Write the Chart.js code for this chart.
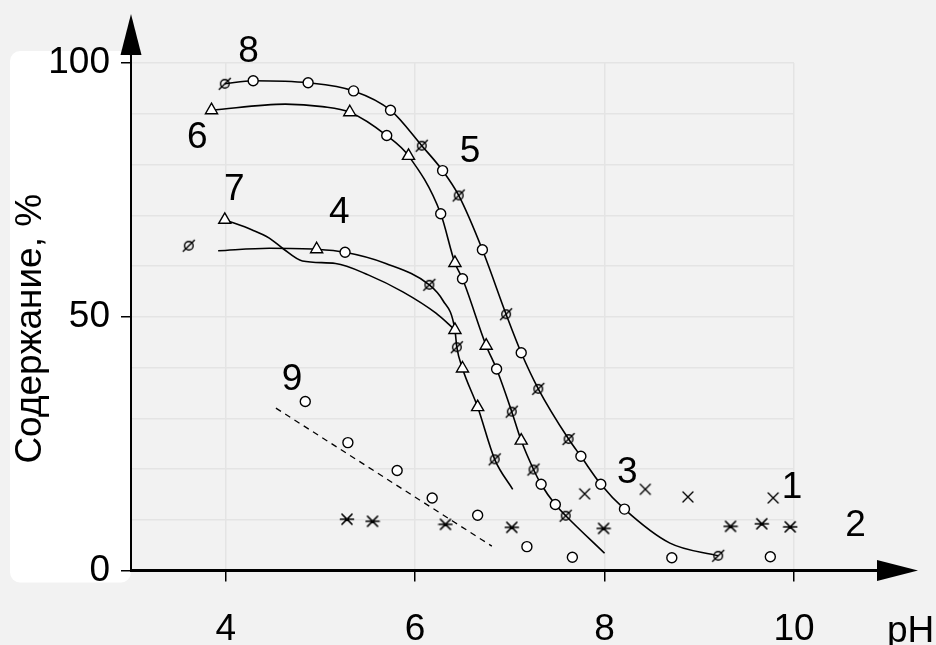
<!DOCTYPE html>
<html>
<head>
<meta charset="utf-8">
<script src="https://cdn.jsdelivr.net/npm/chart.js@4.4.1/dist/chart.umd.min.js"></script>
<style>
  html, body { margin: 0; padding: 0; background: #f2f2f2; }
  #wrap { width: 936px; height: 645px; }
</style>
</head>
<body>
<div id="wrap"><canvas id="chart" width="936" height="645"></canvas></div>
<script>
// values: pH on x, content (%) on y

// markers, grouped by symbol
const circleX = [4.29, 4.87, 5.35, 5.74, 6.29, 6.71, 7.12, 7.75, 7.96, 8.21,
                 5.70, 6.27, 6.50, 6.86, 7.33, 7.48, 5.26,
                 4.84, 5.29, 5.81, 6.18, 6.66, 7.18, 7.66, 8.71, 9.75];
const circleY = [96.5, 96.1, 94.5, 90.7, 78.8, 63.2, 42.9, 22.5, 17.0, 12.1,
                 85.7, 70.3, 57.5, 39.7, 17.0, 13.0, 62.7,
                 33.3, 25.2, 19.7, 14.3, 10.9, 4.7, 2.6, 2.5, 2.7];

const triangleX = [3.85, 5.31, 5.93, 6.42, 6.75, 7.12, 3.99, 4.96, 6.42, 6.50, 6.66];
const triangleY = [90.7, 90.3, 81.7, 60.6, 44.3, 25.6, 69.1, 63.3, 47.4, 39.8, 32.2];

const slashX = [3.99, 6.07, 6.46, 6.96, 7.30, 7.62, 9.20, 7.02, 7.25, 7.59, 6.15, 6.44, 6.84, 3.61];
const slashY = [95.9, 83.7, 73.9, 50.5, 35.8, 25.9, 2.9, 31.3, 19.9, 10.8, 56.3, 44.0, 21.9, 64.0];

const crossX = [7.79, 8.43, 8.88, 9.78];
const crossY = [15.1, 16.0, 14.5, 14.3];

const starX = [5.28, 5.55, 6.32, 7.02, 7.99, 9.33, 9.66, 9.96];
const starY = [10.1, 9.7, 9.1, 8.5, 8.3, 8.7, 9.2, 8.6];

// smooth curves
const curve8X = [3.99, 4.29, 4.87, 5.35, 5.74, 6.07, 6.29, 6.46, 6.71, 6.96, 7.12, 7.30, 7.62, 7.75, 7.96, 8.21, 8.69, 9.20];
const curve8Y = [95.9, 96.5, 96.1, 94.5, 90.7, 83.7, 78.8, 73.9, 63.2, 50.5, 42.9, 35.8, 25.9, 22.5, 17.0, 12.1, 5.4, 2.9];

const curve6X = [3.85, 4.63, 5.02, 5.31, 5.70, 5.93, 6.27, 6.42, 6.50, 6.75, 6.86, 7.02, 7.12, 7.25, 7.33, 7.48, 7.59, 8.00];
const curve6Y = [90.7, 91.9, 91.4, 90.3, 85.7, 81.7, 70.3, 60.6, 57.5, 44.3, 39.7, 31.3, 25.6, 19.9, 17.0, 13.0, 10.8, 3.4];

const curve7X = [3.99, 4.28, 4.46, 4.60, 4.81, 5.16, 5.51, 5.87, 6.22, 6.42];
const curve7Y = [69.1, 67.1, 65.5, 63.5, 61.0, 60.5, 58.2, 54.9, 50.7, 47.4];

const curve4X = [3.92, 4.46, 4.96, 5.26, 5.69, 6.15, 6.29, 6.42, 6.44, 6.50, 6.66, 6.84, 7.03];
const curve4Y = [63.0, 63.5, 63.3, 62.7, 60.5, 56.3, 53.3, 47.4, 44.0, 39.8, 32.2, 21.9, 16.0];

const line9X = [4.53, 6.81];
const line9Y = [32.0, 4.8];

// curve numbers
const labelText = ['8', '6', '7', '4', '5', '9', '3', '1', '2'];
const labelX = [4.24, 3.70, 4.09, 5.20, 6.58, 4.70, 8.24, 9.98, 10.65];
const labelY = [102.2, 85.2, 75.0, 70.4, 82.5, 37.5, 19.2, 16.2, 8.8];

// axes
const xTicks = [4, 6, 8, 10];
const xTitle = 'pH';
const yTitle = 'Содержание, %';

const FONT = "'Liberation Sans', Arial, sans-serif";

function pts(xs, ys) {
    return xs.map((x, i) => ({ x: x, y: ys[i] }));
}

// маркеры, которых нет в Chart.js
function makeMarker(size, draw) {
    const c = document.createElement('canvas');
    c.width = size;
    c.height = size;
    const g = c.getContext('2d');
    g.translate(size / 2, size / 2);
    g.strokeStyle = '#000';
    g.lineWidth = 1.4;
    g.lineCap = 'round';
    draw(g);
    return c;
}

const slashMarker = makeMarker(16, g => {
    g.beginPath();
    g.arc(0, 0, 4.3, 0, Math.PI * 2);
    g.stroke();
    g.beginPath();
    g.moveTo(-5.6, 5.6);
    g.lineTo(5.6, -5.6);
    g.stroke();
});

const crossMarker = makeMarker(16, g => {
    g.beginPath();
    g.moveTo(-5, -5); g.lineTo(5, 5);
    g.moveTo(-5, 5); g.lineTo(5, -5);
    g.stroke();
});

const starMarker = makeMarker(16, g => {
    g.lineWidth = 1.7;
    g.beginPath();
    g.moveTo(-6.5, 0); g.lineTo(6.5, 0);
    g.moveTo(-5, -5); g.lineTo(5, 5);
    g.moveTo(-5, 5); g.lineTo(5, -5);
    g.stroke();
});

function curveSet(xs, ys, dash) {
    return {
        type: 'line',
        data: pts(xs, ys),
        borderColor: '#000',
        borderWidth: dash ? 1.3 : 1.6,
        borderDash: dash ? [6, 5] : [],
        pointRadius: 0,
        fill: false,
        tension: 0.4,
        cubicInterpolationMode: 'monotone',
        clip: false,
        order: 2
    };
}

function markerSet(xs, ys, style, radius) {
    return {
        type: 'scatter',
        data: pts(xs, ys),
        pointStyle: style,
        pointRadius: radius,
        backgroundColor: '#fff',
        borderColor: '#000',
        borderWidth: 1.4,
        clip: false,
        order: 1
    };
}

// фон, белая плашка под подписями оси Y
const backdrop = {
    id: 'backdrop',
    beforeDraw(chart) {
        const ctx = chart.ctx;
        const a = chart.chartArea;
        ctx.save();
        ctx.fillStyle = '#f2f2f2';
        ctx.fillRect(0, 0, chart.width, chart.height);
        ctx.fillStyle = '#ffffff';
        ctx.beginPath();
        ctx.roundRect(10, a.top - 12, a.left - 10, a.bottom - a.top + 24, 10);
        ctx.fill();
        ctx.restore();
    }
};

// оси со стрелками
const arrows = {
    id: 'arrows',
    beforeDatasetsDraw(chart) {
        const ctx = chart.ctx;
        const a = chart.chartArea;
        ctx.save();
        ctx.strokeStyle = '#000';
        ctx.fillStyle = '#000';

        ctx.lineWidth = 2;
        ctx.beginPath();
        ctx.moveTo(a.left, a.bottom + 1);
        ctx.lineTo(a.left, a.top - 20);
        ctx.stroke();
        ctx.beginPath();
        ctx.moveTo(a.left, a.top - 49);
        ctx.lineTo(a.left - 10.5, a.top - 8);
        ctx.lineTo(a.left + 10.5, a.top - 8);
        ctx.closePath();
        ctx.fill();

        ctx.lineWidth = 3;
        ctx.beginPath();
        ctx.moveTo(a.left - 1, a.bottom);
        ctx.lineTo(a.right + 90, a.bottom);
        ctx.stroke();
        ctx.beginPath();
        ctx.moveTo(a.right + 124, a.bottom);
        ctx.lineTo(a.right + 83, a.bottom - 10.5);
        ctx.lineTo(a.right + 83, a.bottom + 10.5);
        ctx.closePath();
        ctx.fill();
        ctx.restore();
    }
};

// номера кривых и подписи осей
const texts = {
    id: 'texts',
    afterDatasetsDraw(chart) {
        const ctx = chart.ctx;
        const xs = chart.scales.x;
        const ys = chart.scales.y;
        const a = chart.chartArea;
        ctx.save();
        ctx.fillStyle = '#000';
        ctx.font = '37px ' + FONT;
        ctx.textAlign = 'center';
        ctx.textBaseline = 'middle';
        labelText.forEach((t, i) => {
            ctx.fillText(t, xs.getPixelForValue(labelX[i]), ys.getPixelForValue(labelY[i]));
        });

        ctx.textAlign = 'left';
        ctx.textBaseline = 'alphabetic';
        ctx.fillText(xTitle, a.right + 93, 642);

        ctx.translate(40.5, (a.top + a.bottom) / 2 + 12);
        ctx.rotate(-Math.PI / 2);
        ctx.textAlign = 'center';
        ctx.fillText(yTitle, 0, 0);
        ctx.restore();
    }
};

const ctx = document.getElementById('chart').getContext('2d');
const chart = new Chart(ctx, {
    type: 'scatter',
    data: {
        datasets: [
            curveSet(curve8X, curve8Y),
            curveSet(curve6X, curve6Y),
            curveSet(curve7X, curve7Y),
            curveSet(curve4X, curve4Y),
            curveSet(line9X, line9Y, true),
            markerSet(circleX, circleY, 'circle', 5),
            markerSet(triangleX, triangleY, 'triangle', 7),
            markerSet(slashX, slashY, slashMarker, 5),
            markerSet(crossX, crossY, crossMarker, 5),
            markerSet(starX, starY, starMarker, 5)
        ]
    },
    options: {
        responsive: false,
        animation: false,
        events: [],
        layout: { padding: { left: 0, top: 63, right: 142, bottom: 0 } },
        plugins: {
            legend: { display: false },
            tooltip: { enabled: false }
        },
        scales: {
            x: {
                type: 'linear',
                min: 3,
                max: 10,
                afterBuildTicks: s => { s.ticks = xTicks.map(v => ({ value: v })); },
                afterFit: s => { s.height = 74.5; },
                border: { display: false },
                grid: {
                    color: '#e4e4e4',
                    lineWidth: 1.5,
                    drawTicks: true,
                    tickLength: 11,
                    tickColor: '#000',
                    tickWidth: 1.5
                },
                ticks: {
                    color: '#000',
                    font: { family: FONT, size: 37 },
                    padding: 26,
                    maxRotation: 0
                }
            },
            y: {
                type: 'linear',
                min: 0,
                max: 100,
                afterFit: s => { s.width = 131; },
                border: { display: false },
                grid: {
                    color: '#e4e4e4',
                    lineWidth: 1.5,
                    drawTicks: true,
                    tickLength: 10,
                    tickColor: c => (c.tick && c.tick.value % 50 === 0) ? '#000' : 'rgba(0,0,0,0)',
                    tickWidth: 1.5
                },
                ticks: {
                    stepSize: 10,
                    color: '#000',
                    font: { family: FONT, size: 37 },
                    padding: 11,
                    callback: v => (v % 50 === 0 ? v : '')
                }
            }
        }
    },
    plugins: [backdrop, arrows, texts]
});
</script>
</body>
</html>
